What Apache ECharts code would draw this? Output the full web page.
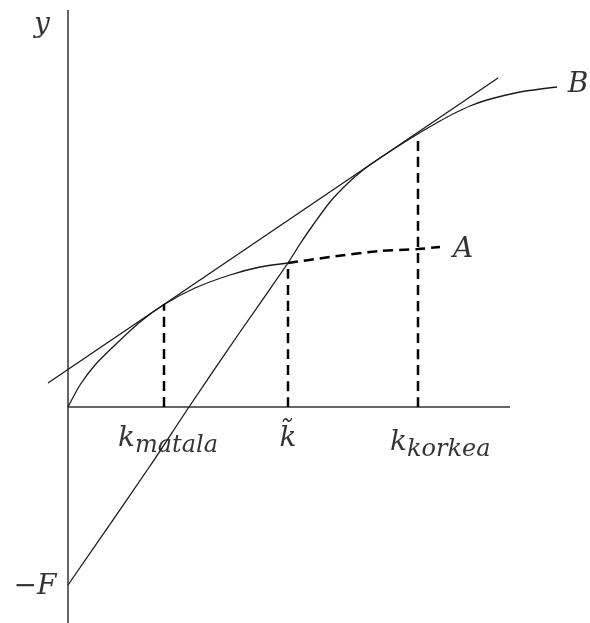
<!DOCTYPE html>
<html>
<head>
<meta charset="utf-8">
<script src="https://cdn.jsdelivr.net/npm/echarts@6/dist/echarts.min.js"></script>
<style>
  html, body { margin: 0; padding: 0; background: #fff; }
  #chart { width: 590px; height: 623px; }
</style>
</head>
<body>
<div id="chart"></div>
<script>
// akselit (x, y)
const yAxisLine = [[0, -21.6], [0, 39.7]];
const xAxisLine = [[0, 0], [44.2, 0]];

// käyrä A: kiinteä osa ja katkoviivalla jatkuva osa
const curveA = [[0, 0], [1.2, 2.2], [2.7, 4.2], [4.7, 6.2], [7.2, 8.5], [9.7, 10.3],
  [12.7, 11.9], [16.2, 13.2], [19.2, 14.0], [22.0, 14.4]];
const curveADashed = [[22.0, 14.4], [26.2, 15.0], [31.2, 15.6], [35.0, 15.8], [37.2, 16.0]];

// käyrä B alkaa pisteestä -F
const curveB = [[0, -17.8], [8.2, -5.9], [12.1, 0], [17.2, 7.5], [22.0, 14.4], [23.2, 16.3],
  [24.5, 18.2], [26.2, 20.5], [27.9, 22.3], [29.5, 23.7], [31.2, 24.9], [33.2, 26.2],
  [35.3, 27.5], [37.2, 28.6], [38.5, 29.3], [40.2, 30.1], [41.9, 30.7], [45.2, 31.5], [48.9, 32.0]];

// yhteinen tangentti
const tangent = [[-2.0, 2.4], [43.0, 32.9]];

// pystysuorat katkoviivat: k_matala, k~, k_korkea
const dropX = [9.6, 22.0, 35.0];
const dropY = [10.3, 14.4, 27.2];

// tekstit
const labels = [
  { value: [-2.6, 38.2], text: '{m|y}', align: 'center' },
  { value: [51.0, 32.2], text: '{m|B}', align: 'center' },
  { value: [39.5, 15.7], text: '{m|A}', align: 'center' },
  { value: [-3.3, -18.0], text: '{m|−F}', align: 'center' },
  { value: [5.0, -3.2], text: '{m|k}{s|matala}', align: 'left' },
  { value: [22.0, -3.2], text: '{m|k̃}', align: 'center' },
  { value: [32.2, -3.6], text: '{m|k}{s|korkea}', align: 'left' }
];

const chart = echarts.init(document.getElementById('chart'));

const solid = { color: '#1a1a1a', width: 1.3 };
const dashed = { color: '#000', width: 2.5, type: [10, 6] };

function lineSeries(data, style) {
  return {
    type: 'line',
    data: data,
    symbol: 'none',
    smooth: 0.25,
    lineStyle: style,
    silent: true,
    animation: false
  };
}

const series = [
  lineSeries(yAxisLine, { color: '#333', width: 1.5 }),
  lineSeries(xAxisLine, { color: '#333', width: 1.5 }),
  lineSeries(curveA, solid),
  lineSeries(curveADashed, dashed),
  lineSeries(curveB, solid),
  lineSeries(tangent, solid)
];
dropX.forEach(function (x, i) {
  series.push(lineSeries([[x, 0], [x, dropY[i]]], dashed));
});
series.push({
  type: 'scatter',
  symbolSize: 0,
  silent: true,
  animation: false,
  data: labels.map(function (l) {
    return {
      value: l.value,
      label: {
        show: true,
        position: 'inside',
        align: l.align,
        verticalAlign: 'middle',
        color: '#000',
        formatter: l.text,
        rich: {
          m: { fontFamily: 'DejaVu Serif', fontStyle: 'italic', fontSize: 28, color: '#000' },
          s: { fontFamily: 'DejaVu Serif', fontStyle: 'italic', fontSize: 24, color: '#000', padding: [14, 0, 0, 0] }
        }
      }
    };
  })
});

chart.setOption({
  backgroundColor: '#fff',
  grid: { left: 0, right: 0, top: 0, bottom: 0 },
  xAxis: { type: 'value', min: -6.8, max: 52.2, show: false },
  yAxis: { type: 'value', min: -21.6, max: 40.7, show: false },
  series: series
});
</script>
</body>
</html>
